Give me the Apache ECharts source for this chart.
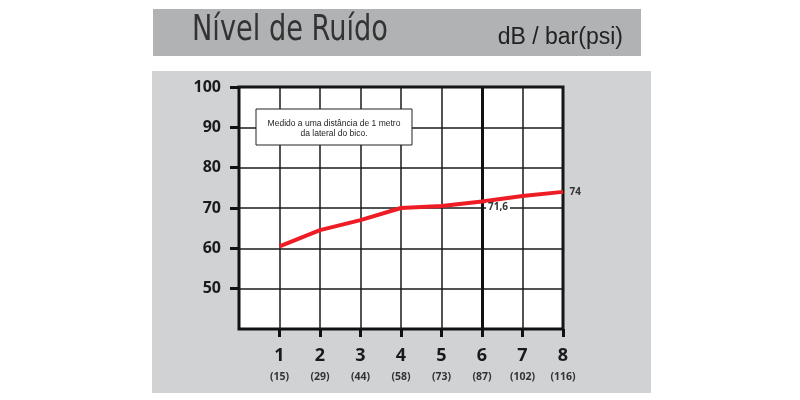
<!DOCTYPE html>
<html>
<head>
<meta charset="utf-8">
<script src="https://cdn.jsdelivr.net/npm/echarts@6/dist/echarts.min.js"></script>
<style>
html,body{margin:0;padding:0;background:#fff;}
#c{width:800px;height:400px;}
</style>
</head>
<body>
<div id="c"></div>
<script>
// Data
var pressureBar = [1, 2, 3, 4, 5, 6, 7, 8];
var pressurePsi = ['15', '29', '44', '58', '73', '87', '102', '116'];
var noiseDb = [60.5, 64.5, 67, 70, 70.5, 71.6, 73, 74];
var yTicks = [50, 60, 70, 80, 90, 100];
var labelledPoints = { 5: '71,6', 7: '74' };
var titleText = 'Nível de Ruído';
var unitText = 'dB / bar(psi)';
var noteText = 'Medido a uma distância de 1 metro\nda lateral do bico.';
var thickGridX = 6;

var chart = echarts.init(document.getElementById('c'), null, { renderer: 'canvas' });

var seriesData = noiseDb.map(function (v, i) {
  var item = { value: [pressureBar[i], v] };
  if (labelledPoints[i] !== undefined) {
    var txt = labelledPoints[i];
    if (i === 5) {
      item.label = {
        show: true, position: 'inside', offset: [16, 6], formatter: txt,
        fontFamily: 'Open Sans, sans-serif', fontWeight: 'bold', fontSize: 10, color: '#333',
        backgroundColor: '#fff', padding: [0, 2]
      };
    } else {
      item.label = {
        show: true, position: 'right', distance: 6, formatter: txt,
        fontFamily: 'Open Sans, sans-serif', fontWeight: 'bold', fontSize: 10, color: '#333'
      };
    }
  }
  return item;
});

var option = {
  animation: false,
  backgroundColor: '#fff',
  graphic: [
    { type: 'rect', z: -10, shape: { x: 153, y: 9, width: 488, height: 47 }, style: { fill: '#b1b2b4' } },
    { type: 'rect', z: -10, shape: { x: 152, y: 71, width: 499, height: 322 }, style: { fill: '#d1d2d4' } },
    { type: 'text', z: 10, x: 192, y: 31, scaleX: 0.84, style: { text: titleText, fill: '#333', font: '36px "DejaVu Sans Condensed", "DejaVu Sans", sans-serif', verticalAlign: 'middle' } },
    { type: 'text', z: 10, x: 623, y: 38, style: { text: unitText, fill: '#222', font: '23px "Liberation Sans", Arial, sans-serif', align: 'right', verticalAlign: 'middle' } },
    { type: 'rect', z: 20, shape: { x: 256, y: 109, width: 156, height: 36 }, style: { fill: '#fff', stroke: '#222', lineWidth: 1 } },
    { type: 'text', z: 21, x: 334, y: 129, style: { text: noteText, fill: '#222', font: '8.5px "Liberation Sans", Arial, sans-serif', align: 'center', verticalAlign: 'middle', lineHeight: 10 } }
  ],
  grid: {
    show: true, left: 239, right: 237, top: 87, bottom: 71,
    backgroundColor: '#fff', borderColor: '#111', borderWidth: 3, containLabel: false
  },
  xAxis: {
    type: 'value', min: 0, max: 8, interval: 1,
    axisLine: { show: false },
    axisTick: { show: true, customValues: pressureBar, length: 8, lineStyle: { color: '#111', width: 3 } },
    splitLine: { show: true, lineStyle: { color: '#1a1a1a', width: 1.5 } },
    axisLabel: {
      customValues: pressureBar, margin: 16,
      formatter: function (v) {
        var i = pressureBar.indexOf(v);
        if (i < 0) return '';
        return '{a|' + v + '}\n{b|(' + pressurePsi[i] + ')}';
      },
      rich: {
        a: { fontFamily: 'Open Sans, sans-serif', fontWeight: 'bold', fontSize: 18, lineHeight: 22, color: '#1a1a1a', align: 'center' },
        b: { fontFamily: 'Open Sans, sans-serif', fontWeight: 'bold', fontSize: 10.5, lineHeight: 20, color: '#333', align: 'center' }
      }
    }
  },
  yAxis: {
    type: 'value', min: 40, max: 100, interval: 10,
    axisLine: { show: false },
    axisTick: { show: true, customValues: yTicks, length: 9, lineStyle: { color: '#111', width: 3 } },
    splitLine: { show: true, lineStyle: { color: '#1a1a1a', width: 1.5 } },
    axisLabel: {
      customValues: yTicks, margin: 18,
      formatter: function (v) { return yTicks.indexOf(v) >= 0 ? String(v) : ''; },
      fontFamily: 'Open Sans, sans-serif', fontWeight: 'bold', fontSize: 16, color: '#1a1a1a'
    }
  },
  series: [
    {
      type: 'line', data: [], z: 1, silent: true,
      markLine: {
        silent: true, symbol: 'none', animation: false,
        label: { show: false },
        lineStyle: { color: '#111', width: 3, type: 'solid' },
        data: [{ xAxis: thickGridX }]
      }
    },
    {
      type: 'line', z: 5, data: seriesData,
      showSymbol: true, symbol: 'circle', symbolSize: 1, smooth: false,
      itemStyle: { color: 'rgba(0,0,0,0)' },
      lineStyle: { color: '#ee1c24', width: 4 },
      label: { show: false }
    }
  ]
};
chart.setOption(option);
</script>
</body>
</html>
